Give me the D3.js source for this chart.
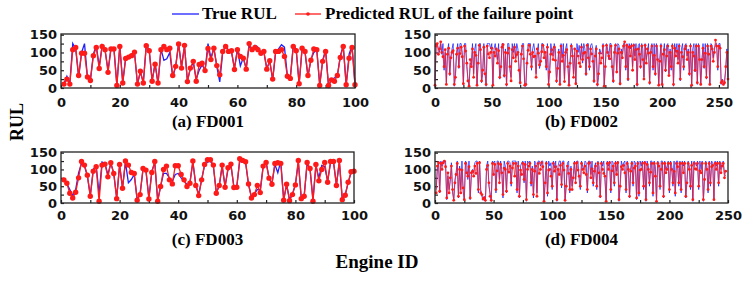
<!DOCTYPE html>
<html>
<head>
<meta charset="utf-8">
<script src="https://cdn.jsdelivr.net/npm/d3@7"></script>
<style>
  body { margin: 0; background: #fff; }
  svg { display: block; }
</style>
</head>
<body>
<div id="chart"></div>
<script>
// ---- data ----
const fd001Pred = [11,25,11,108,114,35,98,98,31,21, 91,114,55,117,108,44,110,110,7,117,
  14,83,87,91,101,11,47,14,119,105, 19,67,14,108,117,108,112,35,61,124,
  56,120,18,56,75,19,66,70,49,111, 80,112,63,37,103,117,103,105,52,108,
  89,84,53,125,108,114,108,98,103,53, 77,25,103,103,108,89,33,27,117,105,
  12,112,103,35,78,110,108,7,75,103, 7,23,19,35,86,117,9,84,114,9];
const fd001True = [12,33,12,125,110,30,100,125,30,22, 95,120,60,120,105,50,112,112,8,120,
  15,85,88,95,100,12,45,15,120,108, 20,70,12,110,78,82,100,30,60,125,
  60,118,20,55,72,25,50,65,50,125, 85,112,60,17,100,120,105,100,55,110,
  62,85,55,120,105,120,115,100,100,55, 75,22,100,110,122,115,35,28,120,110,
  10,110,100,32,80,100,108,8,78,108, 5,25,28,35,90,120,8,95,120,8];

const fd002Pred = [8,118,125,95,110,130,100,88,60,108,10,95,112,40,85,100,105,10,30,95,
  112,60,97,115,88,12,118,104,70,20,5,80,60,110,30,100,92,8,70,120,
  108,20,50,115,40,10,118,96,85,100,112,8,100,90,110,70,105,30,60,115,
  122,35,100,10,98,112,60,20,108,85,115,75,94,100,50,15,95,118,82,8,
  10,70,106,120,95,60,100,88,90,30,110,98,65,75,102,120,85,100,60,115,
  10,45,95,108,80,115,78,20,55,100,10,118,75,92,18,100,108,60,8,70,
  118,90,30,110,12,104,90,70,60,115,80,98,100,40,120,85,60,110,96,75,
  20,90,110,10,40,98,70,85,118,5,60,120,100,90,82,118,60,20,100,120,
  45,98,110,12,100,85,118,130,60,120,25,115,90,118,50,120,80,108,10,110,
  95,60,118,80,25,120,70,110,98,15,100,118,60,92,40,118,80,8,75,118,
  10,95,108,50,90,118,35,100,60,118,10,112,90,104,70,118,25,100,88,60,
  110,118,80,100,40,118,8,100,90,50,118,15,118,80,10,80,112,60,98,30,
  118,95,10,118,110,75,100,135,118,60,118,112,15,20,10,15,60,100,25];
const fd002True = [20,125,125,110,100,125,95,125,50,100,15,100,125,35,90,110,125,5,40,100,
  125,55,125,125,100,8,125,125,60,25,8,70,65,125,40,110,125,5,80,125,
  125,15,40,125,50,5,125,125,125,110,125,10,110,125,100,80,125,25,50,125,
  125,30,110,5,125,125,50,30,125,100,125,85,125,110,60,10,100,125,125,5,
  5,80,125,125,125,50,110,125,100,40,100,125,55,70,125,125,110,90,50,125,
  8,55,125,100,90,125,110,15,65,110,8,125,85,125,25,110,125,70,5,80,
  125,110,40,100,10,125,100,120,80,125,70,125,110,35,125,125,50,120,125,110,
  15,100,120,5,30,110,100,95,125,5,70,125,110,80,125,125,55,15,110,125,
  50,125,120,8,110,95,125,125,50,125,20,125,110,125,60,125,90,125,5,120,
  125,55,125,110,30,125,80,100,125,10,110,125,50,125,35,125,110,5,85,125,
  8,100,125,45,120,125,40,110,50,125,5,125,100,125,80,125,20,110,125,50,
  120,125,90,110,35,125,5,110,125,45,125,10,125,110,8,70,125,55,125,25,
  125,105,8,125,120,85,110,125,125,50,125,125,10,25,8,20,50,110,30];

const fd003Pred = [69,59,29,15,32,75,124,113,83,20, 95,108,5,113,116,78,120,88,13,115,
  44,125,113,91,88,8,25,103,98,12, 91,124,5,49,100,110,69,57,111,111,
  85,69,49,59,125,52,22,69,115,129, 129,113,29,52,113,47,105,116,46,47,
  132,127,123,57,15,25,52,31,110,121, 74,56,118,120,118,8,56,7,25,54,
  127,13,20,121,103,5,115,66,100,121, 62,124,124,52,127,10,23,62,93,95];
const fd003True = [68,58,40,22,40,90,118,110,80,22, 100,112,28,122,118,85,118,90,15,112,
  45,122,60,70,85,10,28,100,95,15, 95,120,8,50,88,88,75,65,85,88,
  75,65,55,60,122,55,25,70,112,122, 125,110,32,50,110,50,100,112,50,50,
  125,122,120,55,18,28,40,40,108,122, 75,58,115,90,125,10,55,10,28,55,
  122,15,22,118,100,10,112,75,112,108, 65,120,122,55,122,12,25,60,90,98];

const fd004Pred = [30,110,120,35,118,100,120,125,108,15,90,30,75,110,40,8,60,85,118,20,
  100,30,98,45,10,118,90,80,108,15,90,95,80,110,88,118,40,120,30,25,
  12,15,8,100,112,60,20,8,118,85,115,40,96,118,60,115,90,25,104,100,
  35,118,92,110,60,104,118,80,118,40,110,20,98,85,118,70,115,10,100,110,
  118,60,100,25,95,110,20,118,88,100,120,108,5,60,118,30,98,100,80,50,
  118,95,108,10,100,85,112,55,118,98,8,50,110,88,40,100,40,75,118,60,
  120,98,80,50,118,100,90,110,85,40,118,120,75,102,60,95,110,50,118,90,
  20,118,100,88,80,5,118,100,120,40,96,110,60,118,85,120,10,50,108,100,
  112,90,40,118,100,20,95,118,60,104,110,15,118,30,98,100,118,50,120,10,
  115,100,60,92,118,30,118,80,5,118,110,50,100,118,20,118,90,100,118,40,
  118,100,60,94,30,118,108,60,118,40,118,90,118,20,60,118,100,50,112,10,
  118,102,100,118,50,96,90,118,10,70,118,100,40,118,60,108,112,10,118,100,
  118,60,118,90,110,118,75,95];
const fd004True = [40,100,125,30,125,110,125,125,125,10,80,40,65,120,30,10,70,90,125,15,
  110,40,125,35,8,125,120,70,125,10,80,100,90,120,125,125,30,125,40,20,
  8,20,5,110,125,50,30,5,125,120,125,30,125,125,70,125,100,15,125,110,
  30,125,125,120,50,125,125,125,125,30,125,15,110,120,125,60,125,5,125,120,
  125,50,110,15,125,120,30,125,125,110,125,125,5,70,125,20,125,110,120,40,
  125,105,125,5,110,125,125,45,125,125,5,60,120,125,30,110,50,85,125,70,
  125,125,70,40,125,110,100,125,120,30,125,125,85,125,50,105,120,40,125,110,
  15,125,110,125,70,8,125,110,125,30,125,120,50,125,95,125,5,60,125,110,
  120,125,30,125,110,15,105,125,50,125,120,10,125,20,125,110,125,40,125,5,
  125,110,50,125,125,20,125,110,5,125,120,40,125,125,15,125,100,110,125,30,
  125,110,50,125,20,125,125,50,125,30,125,110,125,15,70,125,110,40,125,5,
  125,120,110,125,40,125,100,125,5,80,125,110,30,125,50,125,120,8,125,110,
  125,50,125,100,120,125,85,80];

const yTicks = [0, 25, 50, 75, 100, 125, 150];
const legendLabels = ["True RUL", "Predicted RUL of the failure point"];

// ---- layout ----
const W = 751, H = 281;
const serif = "'Liberation Serif', 'Times New Roman', serif";
const sans = "'DejaVu Sans', sans-serif";
const BLUE = "#1f1fff", RED = "#ff1a1a";

const panels = [
  { title: "(a) FD001", pred: fd001Pred, truth: fd001True, start: 1, xMax: 100, step: 10, major: 20,
    x0: 61, x1: 355, y0: 34, y1: 88, pad: 10, r: 2.7, lw: 1.3, dense: false },
  { title: "(b) FD002", pred: fd002Pred, truth: fd002True, start: 0, xMax: 258, step: 25, major: 50,
    x0: 435, x1: 728, y0: 34, y1: 88, pad: 10, r: 1.4, lw: 0.9, dense: true },
  { title: "(c) FD003", pred: fd003Pred, truth: fd003True, start: 1, xMax: 100, step: 10, major: 20,
    x0: 61, x1: 354, y0: 152, y1: 203, pad: 8, r: 2.7, lw: 1.3, dense: false },
  { title: "(d) FD004", pred: fd004Pred, truth: fd004True, start: 1, xMax: 250, step: 25, major: 50,
    x0: 435, x1: 728, y0: 152, y1: 203, pad: 8, r: 1.4, lw: 0.9, dense: true },
];

const svg = d3.select("#chart").append("svg")
  .attr("width", W).attr("height", H);

panels.forEach(p => {
  const x = d3.scaleLinear().domain([0, p.xMax]).range([p.x0, p.x1]);
  const y = d3.scaleLinear().domain([0, 152]).range([p.y1, p.y0]);
  const g = svg.append("g");

  const xt = d3.range(0, p.xMax + 1, p.step);
  const xAxis = g.append("g")
    .attr("transform", `translate(0,${p.y1})`)
    .call(d3.axisBottom(x).tickValues(xt).tickSizeInner(-3).tickSizeOuter(0).tickPadding(p.pad)
      .tickFormat(d => d % p.major === 0 ? d : ""));
  const yAxis = g.append("g")
    .attr("transform", `translate(${p.x0},0)`)
    .call(d3.axisLeft(y).tickValues(yTicks).tickSizeInner(-3).tickSizeOuter(0).tickPadding(4)
      .tickFormat(d => d % 50 === 0 ? d : ""));
  [xAxis, yAxis].forEach(a => {
    a.select(".domain").remove();
    a.selectAll("line").attr("stroke", "#222").attr("stroke-width", 1.2);
    a.selectAll("text").attr("font-family", sans).attr("font-weight", "bold")
      .attr("font-size", 13).attr("fill", "#111");
  });

  const line = d3.line().x((d, i) => x(i + p.start)).y(d => y(d));

  g.append("path").datum(p.truth)
    .attr("fill", "none").attr("stroke", BLUE).attr("stroke-width", p.lw)
    .attr("stroke-opacity", p.dense ? 0.85 : 1).attr("d", line);
  g.append("path").datum(p.pred)
    .attr("fill", "none").attr("stroke", RED).attr("stroke-width", p.lw)
    .attr("stroke-opacity", p.dense ? 0.75 : 1).attr("d", line);
  g.selectAll("circle").data(p.pred).join("circle")
    .attr("cx", (d, i) => x(i + p.start)).attr("cy", d => y(d))
    .attr("r", p.r).attr("fill", RED);

  g.append("rect")
    .attr("x", p.x0).attr("y", p.y0)
    .attr("width", p.x1 - p.x0).attr("height", p.y1 - p.y0)
    .attr("fill", "none").attr("stroke", "#222").attr("stroke-width", 1.3);

  g.append("text")
    .attr("x", (p.x0 + p.x1) / 2).attr("y", p.y1 + (p.y0 < 100 ? 39 : 42))
    .attr("text-anchor", "middle")
    .attr("font-family", serif).attr("font-weight", "bold").attr("font-size", 17)
    .text(p.title);
});

// legend
const lg = svg.append("g").attr("font-family", serif).attr("font-weight", "bold").attr("font-size", 17);
lg.append("line").attr("x1", 172).attr("x2", 199).attr("y1", 14).attr("y2", 14)
  .attr("stroke", BLUE).attr("stroke-width", 1.3);
lg.append("text").attr("x", 202).attr("y", 18.5).text(legendLabels[0]);
lg.append("line").attr("x1", 295).attr("x2", 321).attr("y1", 14).attr("y2", 14)
  .attr("stroke", RED).attr("stroke-width", 1.3);
lg.append("circle").attr("cx", 308).attr("cy", 14).attr("r", 1.8).attr("fill", RED);
lg.append("text").attr("x", 325).attr("y", 18.5).text(legendLabels[1]);

// axis titles
svg.append("text")
  .attr("transform", "translate(23,122) rotate(-90)")
  .attr("text-anchor", "middle")
  .attr("font-family", serif).attr("font-weight", "bold").attr("font-size", 18)
  .text("RUL");
svg.append("text")
  .attr("x", 377).attr("y", 268)
  .attr("text-anchor", "middle")
  .attr("font-family", serif).attr("font-weight", "bold").attr("font-size", 19)
  .text("Engine ID");
</script>
</body>
</html>
